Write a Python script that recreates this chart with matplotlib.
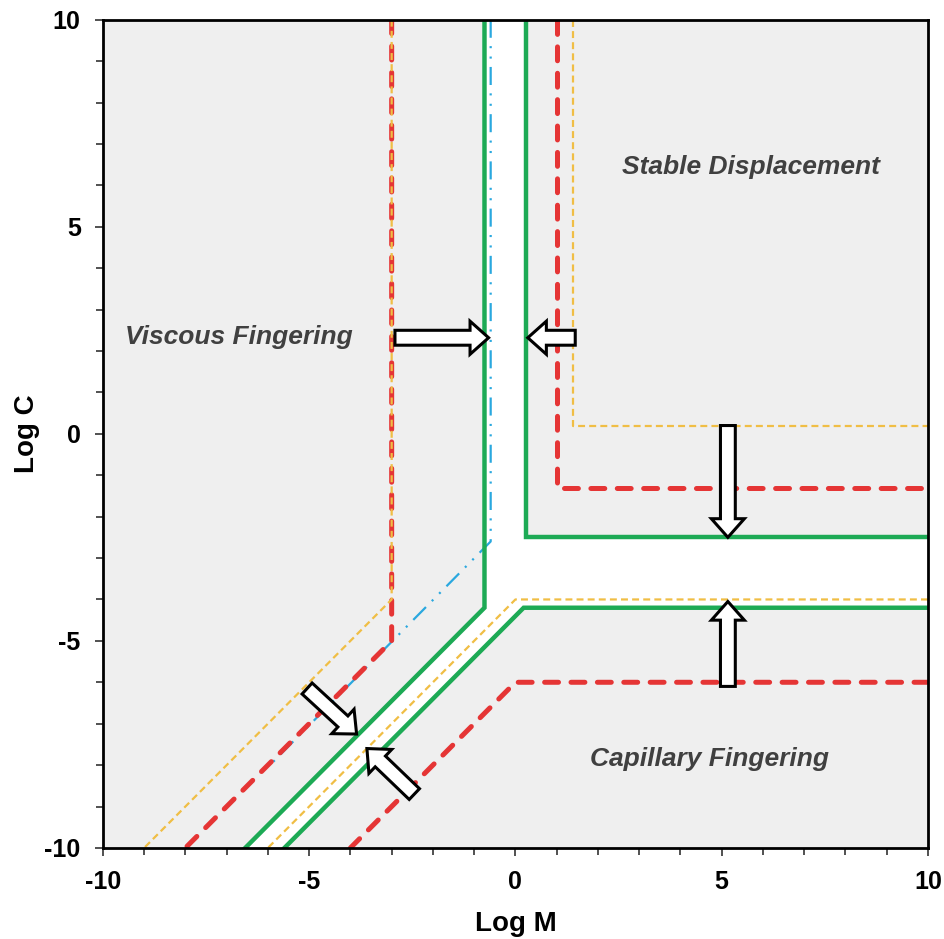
import matplotlib
matplotlib.use("Agg")
import matplotlib.pyplot as plt
from matplotlib.patches import Polygon, FancyArrow
from matplotlib.ticker import MultipleLocator

plt.rcParams['font.family'] = ['Liberation Sans', 'DejaVu Sans']
plt.rcParams['lines.scale_dashes'] = False
plt.rcParams['axes.unicode_minus'] = False

# Phase-diagram boundaries (log M, log C)
green_left_x = [-0.75, -0.75, -6.55]
green_left_y = [10, -4.2, -10]
green_upper_x = [0.25, 0.25, 10]
green_upper_y = [10, -2.5, -2.5]
green_lower_x = [10, 0.2, -5.6]
green_lower_y = [-4.2, -4.2, -10]

red_left_x = [-3, -3, -8]
red_left_y = [10, -5, -10]
red_upper_x = [1.0, 1.0, 10]
red_upper_y = [10, -1.3, -1.3]
red_lower_x = [10, 0, -4]
red_lower_y = [-6, -6, -10]

yellow_left_x = [-3, -3, -9]
yellow_left_y = [10, -4, -10]
yellow_upper_x = [1.4, 1.4, 10]
yellow_upper_y = [10, 0.2, 0.2]
yellow_lower_x = [10, 0, -6]
yellow_lower_y = [-4, -4, -10]

blue_x = [-0.6, -0.6, -6.0]
blue_y = [10, -2.6, -8.05]

# Arrows: (x_start, y_start, x_end, y_end)
arrows = [
    (-2.92, 2.32, -0.65, 2.32),
    (1.45, 2.32, 0.3, 2.32),
    (5.15, 0.2, 5.15, -2.5),
    (5.15, -6.1, 5.15, -4.05),
    (-5.05, -6.15, -3.85, -7.25),
    (-2.45, -8.7, -3.6, -7.6),
]

region_labels = ["Viscous Fingering", "Stable Displacement", "Capillary Fingering"]
region_x = [-6.7, 5.7, 4.7]
region_y = [2.35, 6.45, -7.85]

GREEN = "#1DAA55"
RED = "#E53535"
YELLOW = "#F0BE45"
BLUE = "#2AA8DF"

fig = plt.figure(figsize=(9.44, 9.39), dpi=100)
ax = fig.add_axes([0.109, 0.097, 0.874, 0.882])
ax.set_xlim(-10, 10)
ax.set_ylim(-10, 10)
ax.set_facecolor("#EFEFEF")

# white transition corridor between the green boundaries
corridor = [(green_left_x[0], green_left_y[0]), (green_left_x[1], green_left_y[1]),
            (green_left_x[2], green_left_y[2]), (green_lower_x[2], green_lower_y[2]),
            (green_lower_x[1], green_lower_y[1]), (green_lower_x[0], green_lower_y[0]),
            (green_upper_x[2], green_upper_y[2]), (green_upper_x[1], green_upper_y[1]),
            (green_upper_x[0], green_upper_y[0])]
ax.add_patch(Polygon(corridor, closed=True, facecolor="white", edgecolor="none", zorder=1))

# red long-dashed boundaries
for xs, ys in [(red_left_x, red_left_y), (red_upper_x, red_upper_y), (red_lower_x, red_lower_y)]:
    ln, = ax.plot(xs, ys, color=RED, lw=3.6, zorder=3, solid_joinstyle='miter')
    ln.set_dashes((10, 9))
    ln.set_dash_capstyle('round')

# blue dash-dot-dot boundary
ln, = ax.plot(blue_x, blue_y, color=BLUE, lw=1.6, zorder=2)
ln.set_dashes((13, 6, 1.5, 6, 1.5, 6))

# yellow short-dashed boundaries
for xs, ys in [(yellow_left_x, yellow_left_y), (yellow_upper_x, yellow_upper_y),
               (yellow_lower_x, yellow_lower_y)]:
    ln, = ax.plot(xs, ys, color=YELLOW, lw=1.6, zorder=4)
    ln.set_dashes((5, 3))

# green solid boundaries
for xs, ys in [(green_left_x, green_left_y), (green_upper_x, green_upper_y),
               (green_lower_x, green_lower_y)]:
    ax.plot(xs, ys, color=GREEN, lw=3.2, zorder=5, solid_joinstyle='miter')

for x0, y0, x1, y1 in arrows:
    ax.add_patch(FancyArrow(x0, y0, x1 - x0, y1 - y0, width=0.36, head_width=0.8,
                            head_length=0.45, length_includes_head=True,
                            facecolor="white", edgecolor="black", lw=2.2, zorder=6))

for label, tx, ty in zip(region_labels, region_x, region_y):
    ax.text(tx, ty, label, fontsize=19, fontweight='bold', fontstyle='italic',
            color="#404040", ha='center', va='center', zorder=7)

ax.xaxis.set_major_locator(MultipleLocator(5))
ax.yaxis.set_major_locator(MultipleLocator(5))
ax.xaxis.set_minor_locator(MultipleLocator(1))
ax.yaxis.set_minor_locator(MultipleLocator(1))
ax.tick_params(which='both', direction='out', width=1.2, colors='#333333',
               labelcolor='black')
ax.tick_params(which='major', length=6, labelsize=18, pad=10)
ax.tick_params(which='minor', length=5)
for lab in ax.get_xticklabels() + ax.get_yticklabels():
    lab.set_fontweight('bold')
for sp in ax.spines.values():
    sp.set_linewidth(2)
    sp.set_color('black')
    sp.set_zorder(8)

ax.set_xlabel("Log M", fontsize=20, fontweight='bold', labelpad=12)
ax.set_ylabel("Log C", fontsize=20, fontweight='bold', labelpad=3)

fig.savefig("out.png", dpi=100)
